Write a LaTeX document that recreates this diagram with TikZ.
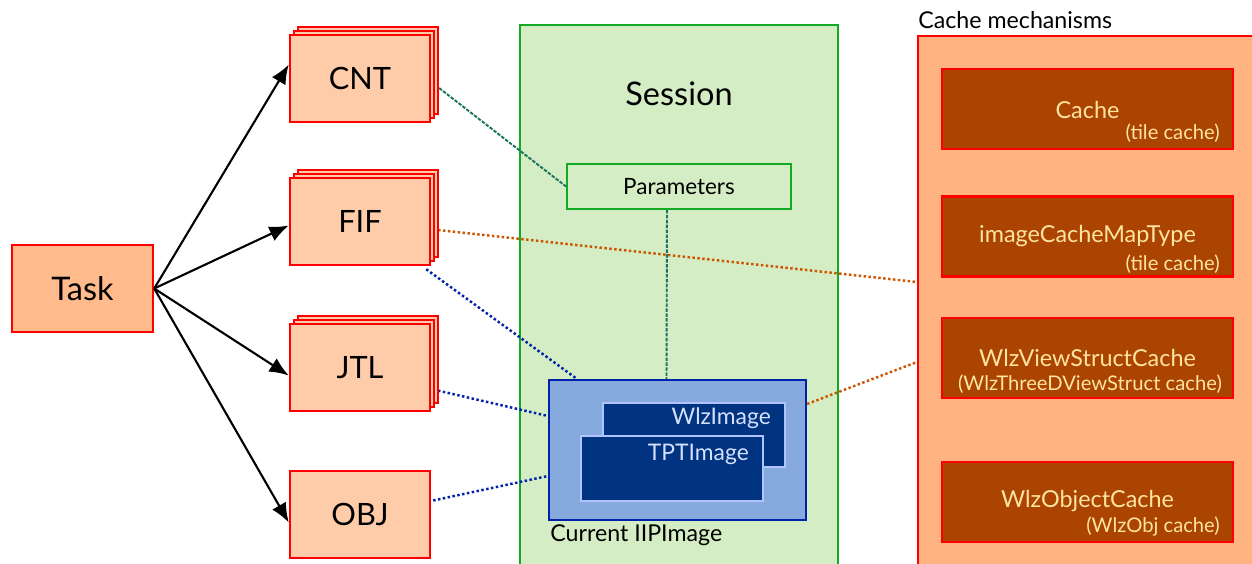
\documentclass[tikz,border=0pt]{standalone}
\usepackage{fontspec}
\setmainfont{Lato}
\usetikzlibrary{arrows.meta,calc}
\pgfdeclarelayer{bg}
\pgfdeclarelayer{lines}
\pgfsetlayers{bg,lines,main}
\definecolor{taskfill}{HTML}{FFBB8C}
\definecolor{stackfill}{HTML}{FFCCAA}
\definecolor{sessfill}{HTML}{D4EDC4}
\definecolor{sessline}{HTML}{11AA22}
\definecolor{iipfill}{HTML}{87AADE}
\definecolor{iipline}{HTML}{0022AA}
\definecolor{imgfill}{HTML}{003380}
\definecolor{imgline}{HTML}{B0C4FF}
\definecolor{imgtext}{HTML}{D5E0FF}
\definecolor{cachefill}{HTML}{FFB380}
\definecolor{cacheinner}{HTML}{AA4400}
\definecolor{cachetext}{HTML}{FFE3A0}
\definecolor{tealc}{HTML}{1A7560}
\definecolor{orangedot}{HTML}{CC5500}
\definecolor{bluedot}{HTML}{0022AA}
\tikzset{
  redbox/.style={draw=red, line width=1.4pt, fill=#1, minimum width=2.8cm, minimum height=1.74cm, inner sep=0pt, font=\fontsize{17.5}{20}\selectfont},
  cachebox/.style={draw=red, line width=1.2pt, fill=cacheinner, minimum width=5.82cm, minimum height=1.6cm, inner sep=0pt},
  maintext/.style={text=cachetext, font=\fontsize{13.3}{15}\selectfont},
  subtext/.style={text=cachetext, font=\fontsize{11.5}{13}\selectfont, anchor=east},
  imgbox/.style={draw=imgline, line width=1.1pt, fill=imgfill, minimum width=3.64cm, minimum height=1.29cm, inner sep=0pt},
  imglabel/.style={text=imgtext, font=\fontsize{13}{15}\selectfont, anchor=east},
  taskarrow/.style={line width=1.2pt, -{Latex[length=11pt,width=9pt]}},
  tealline/.style={draw=tealc, line width=1.1pt, dash pattern=on 2pt off 0.8pt},
  orangeline/.style={draw=orangedot, line width=1.4pt, dash pattern=on 1.4pt off 1.4pt},
  blueline/.style={draw=bluedot, line width=1.4pt, dash pattern=on 1.4pt off 1.4pt},
}
\begin{document}
\begin{tikzpicture}[x=0.02cm,y=-0.02cm]
\clip (0,0) rectangle (1252,564);
\begin{pgfonlayer}{bg}
\fill[white] (0,0) rectangle (1252,564);
\node[draw=sessline, line width=1.1pt, fill=sessfill, minimum width=6.36cm, minimum height=11.2cm, inner sep=0pt] (session) at (679,305) {};
\node[draw=red, line width=1.2pt, fill=cachefill, minimum width=7cm, minimum height=11.2cm, inner sep=0pt] (outer) at (1093,316) {};
\end{pgfonlayer}
\node[font=\fontsize{18.5}{21}\selectfont] (sesstitle) at (679,94) {Session};
\node[anchor=west, font=\fontsize{13.2}{15}\selectfont, inner sep=0pt] (cachetitle) at (918,20) {Cache mechanisms};
% stacks back layers
\foreach \n/\y in {cnt/78.5, fif/221.5, jtl/367.5}{
  \node[redbox=stackfill] (\n C) at (368,\y-8) {};
  \node[redbox=stackfill] (\n B) at (364,\y-4) {};
}
% front boxes
\node[redbox=stackfill] (cnt) at (360,78.5) {CNT};
\node[redbox=stackfill] (fif) at (360,221.5) {FIF};
\node[redbox=stackfill] (jtl) at (360,367.5) {JTL};
\node[redbox=stackfill] (obj) at (360,514.5) {OBJ};
\node[redbox=taskfill, minimum width=2.82cm, font=\fontsize{18.5}{21}\selectfont] (task) at (82.5,288.5) {Task};
% Parameters
\node[draw=sessline, line width=1.1pt, fill=sessfill, minimum width=4.48cm, minimum height=0.9cm, inner sep=0pt, font=\fontsize{12.8}{15}\selectfont] (params) at (679,186.5) {Parameters};
% Current IIPImage
\node[draw=iipline, line width=1.3pt, fill=iipfill, minimum width=5.14cm, minimum height=2.8cm, inner sep=0pt] (iip) at (677.5,450) {};
\node[anchor=west, font=\fontsize{13.2}{15}\selectfont, inner sep=0pt] (iiplabel) at (550,535) {Current IIPImage};
% connectors
\begin{pgfonlayer}{lines}
\draw[tealline] (cntB.east |- 0,85) -- (params.west);
\draw[tealline] ($(params.south)+(-12,0)$) -- ($(iip.north)+(-11,0)$);
\draw[orangeline] ($(fif.east)+(2,8)$) -- ($(outer.west)+(0,-34)$);
\draw[orangeline] ($(iip.east)+(0,-46)$) -- ($(outer.west)+(0,46)$);
\draw[blueline] ($(fif.south east)+(-5,3)$) -- ($(iip.north west)+(29,0)$);
\draw[blueline] ($(jtl.east)+(2,22)$) -- ($(iip.west)+(0,-34)$);
\draw[blueline] ($(obj.east)+(2,-14)$) -- ($(iip.west)+(0,26)$);
\end{pgfonlayer}
% arrows
\draw[taskarrow] (task.east) -- ($(cnt.west)+(0,-14)$);
\draw[taskarrow] (task.east) -- ($(fif.west)+(0,4)$);
\draw[taskarrow] (task.east) -- ($(jtl.west)+(0,8)$);
\draw[taskarrow] (task.east) -- ($(obj.west)+(0,8)$);
% images inside IIP
\node[imgbox] (wlz) at (694,435) {};
\node[imglabel] (wlzt) at (777,418) {WlzImage};
\node[imgbox] (tpt) at (672,468.5) {};
\node[imglabel] (tptt) at (755,454) {TPTImage};
% cache inner boxes
\node[cachebox] (c1) at (1087.5,109) {};
\node[maintext] (c1t) at (1087.5,110) {Cache};
\node[subtext] (c1s) at (1226,133) {(tile cache)};
\node[cachebox] (c2) at (1087.5,236.5) {};
\node[maintext] (c2t) at (1087.5,236) {imageCacheMapType};
\node[subtext] (c2s) at (1226,264) {(tile cache)};
\node[cachebox] (c3) at (1087.5,358) {};
\node[maintext] (c3t) at (1087.5,358) {WlzViewStructCache};
\node[subtext] (c3s) at (1228,384) {(WlzThreeDViewStruct cache)};
\node[cachebox] (c4) at (1087.5,502) {};
\node[maintext] (c4t) at (1087.5,501) {WlzObjectCache};
\node[subtext] (c4s) at (1226,527) {(WlzObj cache)};
\end{tikzpicture}
\end{document}
